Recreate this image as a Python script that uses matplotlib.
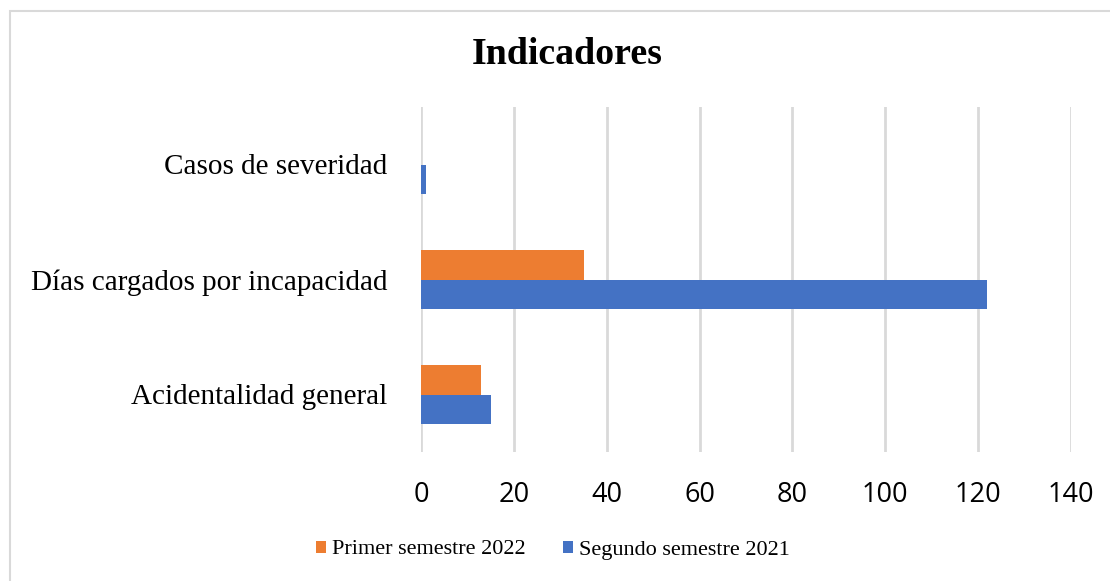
import numpy as np
import matplotlib.pyplot as plt
from matplotlib.patches import Rectangle

# Data
categories = ['Acidentalidad general', 'Días cargados por incapacidad', 'Casos de severidad']
primer_2022 = [13, 35, 0]
segundo_2021 = [15, 122, 1]
xticks = [0, 20, 40, 60, 80, 100, 120, 140]

orange = '#ED7D31'
blue = '#4472C4'
serif = ['Liberation Serif', 'DejaVu Serif']

fig = plt.figure(figsize=(11.1, 5.81), dpi=100)
ax = fig.add_axes([421 / 1110, 1 - 452 / 581, 650 / 1110, 345 / 581])

y = np.arange(len(categories))
h = 0.26
ax.barh(y + h / 2, primer_2022, height=h, color=orange, label='Primer semestre 2022', zorder=3)
ax.barh(y - h / 2, segundo_2021, height=h, color=blue, label='Segundo semestre 2021', zorder=3)

ax.set_xlim(0, 140)
ax.set_ylim(-0.5, 2.5)
ax.set_xticks(xticks)
ax.set_xticklabels([str(t) for t in xticks], fontfamily='Open Sans', fontsize=19.5)
ax.set_yticks(y)
ax.set_yticklabels(categories, fontfamily=serif, fontsize=21)
ax.tick_params(axis='both', length=0)
ax.tick_params(axis='y', pad=24)
ax.tick_params(axis='x', pad=21)
ax.grid(axis='x', color='#d9d9d9', linewidth=2, zorder=0)
for s in ax.spines.values():
    s.set_visible(False)

fig.text(567 / 1110, 1 - 55 / 581, 'Indicadores', ha='center', va='center',
         fontfamily=serif, fontsize=27.3, fontweight='bold')

leg = fig.legend(loc='center', bbox_to_anchor=(553 / 1110, 1 - 550 / 581), ncol=2,
                 frameon=False, prop={'family': serif, 'size': 16},
                 handlelength=0.45, handleheight=0.45, handletextpad=0.3, columnspacing=1.65)

# light border around the chart area
fig.patches.append(Rectangle((10 / 1110, -0.05), 1.1, 1 - 11 / 581 + 0.05,
                             transform=fig.transFigure, fill=False,
                             edgecolor='#d9d9d9', linewidth=1.5))

fig.savefig('out.png', dpi=100)
